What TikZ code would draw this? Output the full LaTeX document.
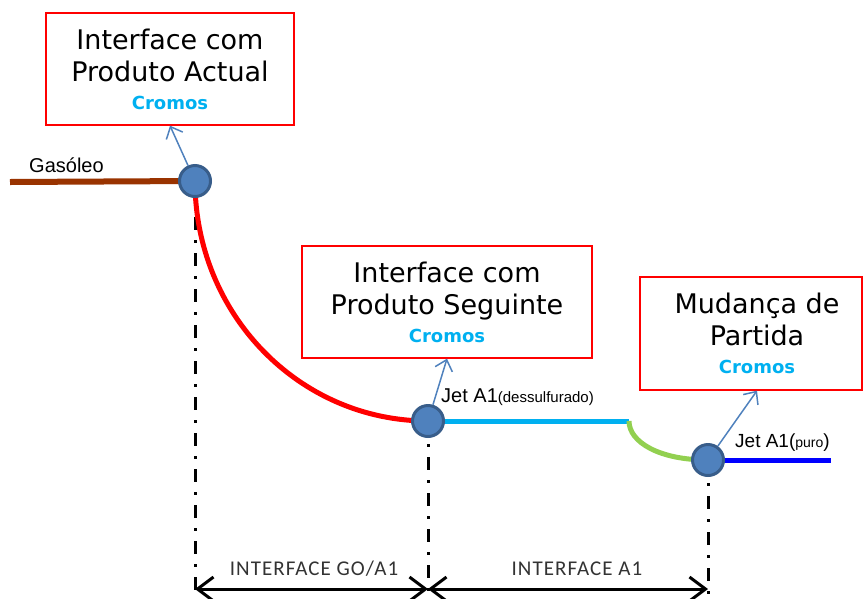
\documentclass[tikz,border=0pt]{standalone}
\usepackage{fontspec}
\setmainfont{DejaVu Sans}
\newfontfamily\arialfont{Liberation Sans}
\newfontfamily\dimfont[LetterSpace=5]{Carlito}
\usetikzlibrary{arrows.meta}
\definecolor{cromo}{RGB}{0,176,240}
\definecolor{dotfill}{RGB}{79,129,189}
\definecolor{dotrim}{RGB}{56,93,138}
\definecolor{gasoil}{RGB}{153,51,0}
\definecolor{jetgreen}{RGB}{146,208,80}
\newcommand{\crom}{{\fontsize{18}{18}\selectfont\bfseries\color{cromo}Cromos}}

\begin{document}
\begin{tikzpicture}[x=1pt,y=-1pt,
	box/.style={draw=red, line width=1.3pt, inner sep=0pt},
	txt/.style={align=center, inner sep=0pt, font=\fontsize{27}{32}\selectfont},
	dot/.style={circle, fill=dotfill, draw=dotrim, line width=3pt, minimum size=31pt, inner sep=0pt},
	ptr/.style={dotfill, line width=1.5pt, -{Straight Barb[length=10pt,width=18pt]}},
	axis/.style={line width=3pt, dash pattern=on 13pt off 10pt on 3pt off 10pt},
	dim/.style={line width=3pt, {Straight Barb[length=16pt,width=24pt]}-{Straight Barb[length=16pt,width=24pt]}},
	lbl/.style={anchor=base west, inner sep=0pt, font=\arialfont\fontsize{20}{20}\selectfont},
	dimlbl/.style={anchor=base, inner sep=0pt, text=black!80, font=\dimfont\fontsize{21}{21}\selectfont}]
	\useasboundingbox (0,0) rectangle (864,598);

	\coordinate (p1) at (195,181);
	\coordinate (p2) at (428,421);
	\coordinate (p3) at (708,460);
	\coordinate (g0) at (10,182);
	\coordinate (k1) at (629,421);
	\coordinate (k2) at (831,460);
	\coordinate (bot) at (0,598);
	\coordinate (dimy) at (0,589);

	\foreach \p in {p1,p2,p3}{
		\draw[axis] (\p) -- (\p |- bot);
	}

	\draw[gasoil, line width=6pt] (g0) -- (p1);
	\draw[red, line width=5pt] (p1) .. controls (195,314) and (299,421) .. (p2);
	\draw[cromo, line width=5pt] (p2) -- (k1);
	\draw[jetgreen, line width=5pt] (k1) .. controls (629,442) and (659,460) .. (p3);
	\draw[blue, line width=5pt] (p3) -- (k2);

	\node[dot] (c1) at (p1) {};
	\node[dot] (c2) at (p2) {};
	\node[dot] (c3) at (p3) {};

	\node[box, minimum width=248pt, minimum height=112pt] (b1) at (170,69) {};
	\node[box, minimum width=290pt, minimum height=112pt] (b2) at (447,302) {};
	\node[box, minimum width=222pt, minimum height=113pt] (b3) at (751,333.5) {};
	\node[txt] (t1) at (b1) {Interface com\\Produto Actual\\[-4pt]\crom};
	\node[txt] (t2) at (b2) {Interface com\\Produto Seguinte\\[-4pt]\crom};
	\node[txt] (t3) at ([xshift=6pt]b3.center) {Mudança de\\Partida\\[-4pt]\crom};

	\draw[ptr] (c1) -- (b1.south);
	\draw[ptr] (c2) -- (b2.south);
	\draw[ptr] (c3) -- (t3 |- b3.south);

	\node[lbl] (gas) at (29,172) {Gasóleo};
	\node[lbl] (jet1) at (441,402) {Jet A1{\fontsize{15}{15}\selectfont(dessulfurado)}};
	\node[lbl] (jet2) at (735,447) {\fontsize{19}{19}\selectfont Jet A1({\fontsize{14}{14}\selectfont puro})};

	\coordinate (d1) at (p1 |- dimy);
	\coordinate (d2) at (p2 |- dimy);
	\coordinate (d3) at (p3 |- dimy);
	\draw[dim] (d1) -- (d2);
	\draw[dim] (d2) -- (d3);
	\node[dimlbl] (l1) at (314,575) {INTERFACE GO/A1};
	\node[dimlbl] (l2) at (577,575) {INTERFACE A1};
\end{tikzpicture}
\end{document}
